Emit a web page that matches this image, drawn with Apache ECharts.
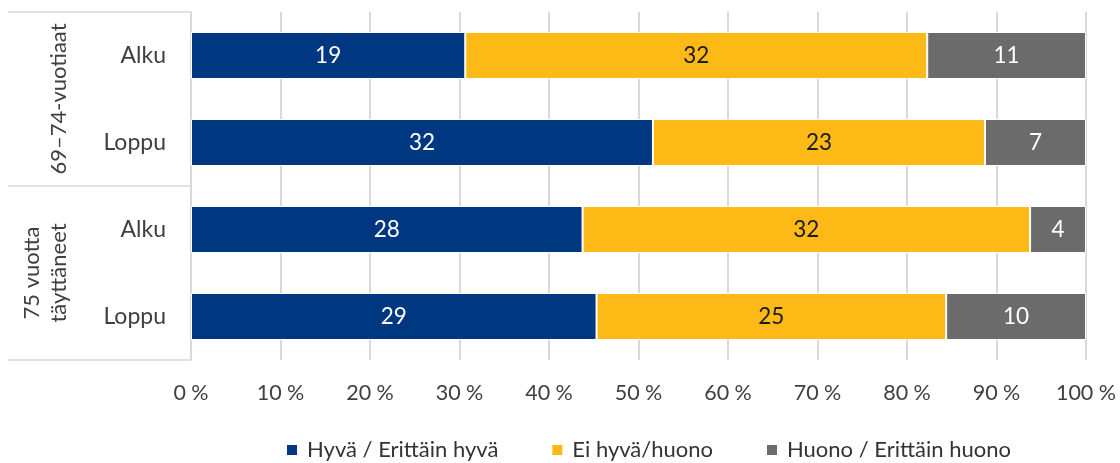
<!DOCTYPE html>
<html>
<head>
<meta charset="utf-8">
<script src="https://cdn.jsdelivr.net/npm/echarts@6/dist/echarts.min.js"></script>
<style>
  html, body { margin: 0; padding: 0; background: #fff; }
  #chart { width: 1120px; height: 463px; }
</style>
</head>
<body>
<div id="chart"></div>
<script>
// rivit ylhäältä alas
var groups = ['69–74-vuotiaat', '75 vuotta\ntäyttäneet'];
var rows = ['Alku', 'Loppu', 'Alku', 'Loppu'];
var seriesNames = ['Hyvä / Erittäin hyvä', 'Ei hyvä/huono', 'Huono / Erittäin huono'];
// vastaajien lukumäärät
var hyva = [19, 32, 28, 29];
var eiHyva = [32, 23, 32, 25];
var huono = [11, 7, 4, 10];
var xTicks = [0, 10, 20, 30, 40, 50, 60, 70, 80, 90, 100];

var colors = ['#003781', '#fdb916', '#6b6b6b'];
var labelColors = ['#ffffff', '#1a1a1a', '#ffffff'];
var font = 'Lato';
var lineCol = '#d9d9d9';

var counts = [hyva, eiHyva, huono];
var totals = rows.map(function (r, i) { return hyva[i] + eiHyva[i] + huono[i]; });

var chart = echarts.init(document.getElementById('chart'), null, { renderer: 'canvas' });

var series = counts.map(function (arr, s) {
  return {
    name: seriesNames[s],
    type: 'bar',
    stack: 'total',
    barWidth: '54%',
    yAxisIndex: 0,
    itemStyle: { color: colors[s], borderColor: '#fff', borderWidth: 1 },
    label: {
      show: true,
      position: 'inside',
      color: labelColors[s],
      fontFamily: font,
      fontSize: 22.5,
      formatter: function (p) { return p.data.count; }
    },
    data: arr.map(function (v, i) {
      return { value: v / totals[i] * 100, count: v };
    })
  };
});

chart.setOption({
  animation: false,
  textStyle: { fontFamily: font },
  legend: {
    data: seriesNames,
    left: 280,
    top: 434,
    icon: 'rect',
    itemWidth: 12,
    itemHeight: 12,
    itemGap: 52,
    textStyle: { fontFamily: font, fontSize: 22, color: '#333', padding: [0, 0, 0, 4] }
  },
  grid: {
    left: 191,
    right: 34,
    top: 12,
    height: 348,
    containLabel: false,
    outerBoundsMode: 'none'
  },
  xAxis: {
    type: 'value',
    min: xTicks[0],
    max: xTicks[xTicks.length - 1],
    interval: xTicks[1] - xTicks[0],
    axisLine: { show: false },
    axisTick: { show: false },
    splitLine: { show: true, lineStyle: { color: lineCol, width: 2 } },
    axisLabel: {
      fontFamily: font, fontSize: 21.5, color: '#404040', margin: 22,
      formatter: '{value} %'
    }
  },
  yAxis: [{
    type: 'category',
    data: rows,
    inverse: true,
    position: 'left',
    axisLine: { show: true, lineStyle: { color: lineCol, width: 1.5 } },
    axisTick: { show: false },
    splitLine: { show: false },
    axisLabel: { interval: 0, fontFamily: font, fontSize: 23, color: '#404040', margin: 25 }
  }, {
    type: 'category',
    data: groups,
    inverse: true,
    position: 'left',
    offset: 0,
    axisLine: { show: false },
    axisTick: { show: true, interval: 0, length: 183, lineStyle: { color: lineCol, width: 1.5 } },
    splitLine: { show: false },
    axisLabel: {
      interval: 0, rotate: 90, fontFamily: font, fontSize: 22, lineHeight: 27,
      color: '#404040', margin: 119
    }
  }],
  series: series
});
</script>
</body>
</html>
